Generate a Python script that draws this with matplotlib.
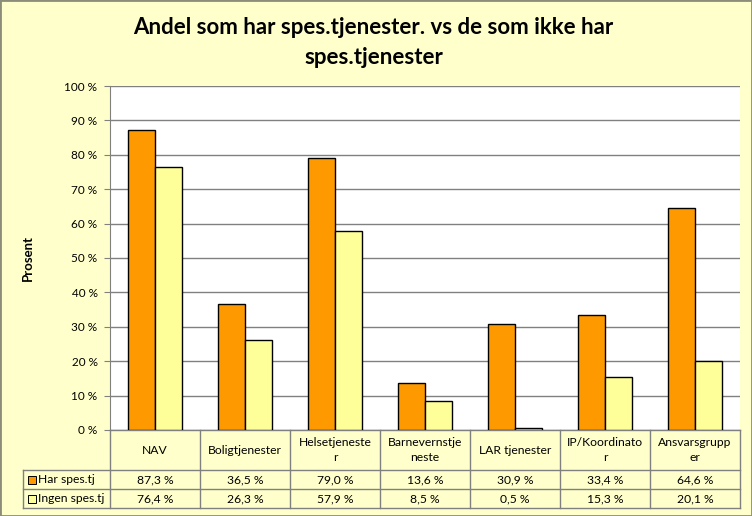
import numpy as np
import matplotlib.pyplot as plt
from matplotlib.patches import Rectangle
from matplotlib.transforms import blended_transform_factory

# data
categories = ['NAV', 'Boligtjenester', 'Helsetjeneste\nr', 'Barnevernstje\nneste',
              'LAR tjenester', 'IP/Koordinato\nr', 'Ansvarsgrupp\ner']
har_spes = [87.3, 36.5, 79.0, 13.6, 30.9, 33.4, 64.6]
ingen_spes = [76.4, 26.3, 57.9, 8.5, 0.5, 15.3, 20.1]
series_names = ['Har spes.tj', 'Ingen spes.tj']
yticks = [0, 10, 20, 30, 40, 50, 60, 70, 80, 90, 100]

plt.rcParams['font.family'] = ['Lato', 'DejaVu Sans']

bg = '#FFFFCC'
c_har = '#FF9900'
c_ingen = '#FFFF99'
grid_c = '#808080'

fig = plt.figure(figsize=(7.52, 5.16), dpi=100)
fig.patch.set_facecolor(bg)
ax = fig.add_axes([110 / 752, 86 / 516, 630 / 752, 344 / 516])
ax.set_facecolor('white')

x = np.arange(len(categories))
w = 0.3
ax.bar(x - w / 2, har_spes, w, color=c_har, edgecolor='black', linewidth=1, zorder=3)
ax.bar(x + w / 2, ingen_spes, w, color=c_ingen, edgecolor='black', linewidth=1, zorder=3)

ax.set_xlim(-0.5, len(categories) - 0.5)
ax.set_ylim(0, 100)
ax.set_yticks(yticks)
ax.set_yticklabels([f'{t} %' for t in yticks], fontsize=8.5)
ax.set_xticks([])
ax.yaxis.grid(True, color=grid_c, linewidth=1)
ax.set_axisbelow(True)
ax.tick_params(axis='y', length=4, color=grid_c, pad=5)
for s in ['top', 'right', 'bottom']:
    ax.spines[s].set_visible(False)
ax.spines['left'].set_color(grid_c)

ax.set_ylabel('Prosent', fontsize=9.5, fontweight='bold', labelpad=22)

# data table under the chart
tr = blended_transform_factory(ax.transData, ax.transAxes)
h_head = -40 / 344
h_r1 = -59 / 344
h_r2 = -78 / 344
x_lab = -1.47
n = len(categories)
lk = dict(color=grid_c, linewidth=1, transform=tr, clip_on=False)
ax.plot([-0.5, n - 0.5], [0, 0], **lk)
for yy in [h_head, h_r1, h_r2]:
    ax.plot([x_lab, n - 0.5], [yy, yy], **lk)
for xx in np.arange(n + 1) - 0.5:
    ax.plot([xx, xx], [0, h_r2], **lk)
ax.plot([x_lab, x_lab], [h_head, h_r2], **lk)

fs = 8.7
for i, cat in enumerate(categories):
    ax.text(i, h_head / 2, cat, transform=tr, ha='center', va='center',
            fontsize=fs, linespacing=1.45, clip_on=False)
    ax.text(i, (h_head + h_r1) / 2, f'{har_spes[i]:.1f} %'.replace('.', ','),
            transform=tr, ha='center', va='center', fontsize=fs, clip_on=False)
    ax.text(i, (h_r1 + h_r2) / 2, f'{ingen_spes[i]:.1f} %'.replace('.', ','),
            transform=tr, ha='center', va='center', fontsize=fs, clip_on=False)

for yy, name, col in [((h_head + h_r1) / 2, series_names[0], c_har),
                      ((h_r1 + h_r2) / 2, series_names[1], c_ingen)]:
    ax.plot([x_lab + 0.1], [yy], marker='s', markersize=5.5, color=col,
            markeredgecolor='black', markeredgewidth=0.7, transform=tr, clip_on=False)
    ax.text(x_lab + 0.17, yy, name, transform=tr, ha='left', va='center',
            fontsize=fs, clip_on=False)

fig.text(0.497, 1 - 27 / 516, 'Andel som har spes.tjenester. vs de som ikke har',
         ha='center', va='center', fontsize=16, fontweight='bold')
fig.text(0.497, 1 - 57 / 516, 'spes.tjenester', ha='center', va='center',
         fontsize=16, fontweight='bold')

fig.add_artist(Rectangle((0, 0), 1, 1, transform=fig.transFigure, fill=False,
                         edgecolor='#8C8C7A', linewidth=2))

fig.savefig('out.png', dpi=100, facecolor=bg)
